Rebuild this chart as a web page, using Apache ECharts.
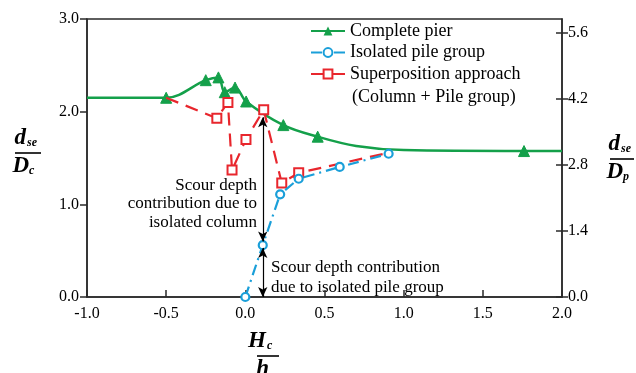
<!DOCTYPE html>
<html><head><meta charset="utf-8">
<script src="https://cdn.jsdelivr.net/npm/echarts@6/dist/echarts.min.js"></script>
<style>html,body{margin:0;padding:0;background:#fff}#c{width:636px;height:373px}</style>
</head><body><div id="c"></div>
<script>
// Complete pier: measured points (drawn with triangles)
const pierX = [-0.5, -0.25, -0.17, -0.13, -0.065, 0.005, 0.24, 0.457, 1.76];
const pierY = [2.15, 2.34, 2.37, 2.21, 2.26, 2.11, 1.855, 1.73, 1.575];
// Complete pier: readings of the fitted curve where no point is marked
const pierCurveX = [-1.0, 0.7, 1.0, 2.0];
const pierCurveY = [2.15, 1.63, 1.585, 1.575];
// Isolated pile group, on the right axis (dse/Dp)
const pileX = [0.0, 0.11, 0.22, 0.337, 0.596, 0.905];
const pileY = [0.0, 1.10, 2.18, 2.51, 2.76, 3.04];
// Superposition approach (column + pile group), on the left axis (dse/Dc)
const superX = [-0.5, -0.18, -0.11, -0.084, 0.004, 0.116, 0.23, 0.337, 0.905];
const superY = [2.15, 1.93, 2.10, 1.37, 1.70, 2.02, 1.23, 1.34, 1.557];
// Arrow positions (Hc/h and dse/Dc)
const arrowX = 0.11;
const arrowColumn = [1.94, 0.60];
const arrowPile = [0.53, 0.0];
// Axis ticks
const xTicks = { min: -1.0, max: 2.0, step: 0.5 };
const leftTicks = { min: 0, max: 3.0, step: 1.0 };
const rightTicks = [0, 1.4, 2.8, 4.2, 5.6];
const rightMax = 5.9;

const SERIF = '"Liberation Serif", "Times New Roman", serif';
const GREEN = '#14a04a', BLUE = '#1a9fd9', RED = '#e8262d', AXIS = '#2a2a2a';

// merge measured and curve readings of the complete pier, sorted by x
const pierData = pierX.map((x, i) => ({ value: [x, pierY[i]] }))
  .concat(pierCurveX.map((x, i) => ({ value: [x, pierCurveY[i]], symbol: 'none' })))
  .sort((a, b) => a.value[0] - b.value[0]);
const pileData = pileX.map((x, i) => [x, pileY[i]]);
const superData = superX.map((x, i) => {
  const item = { value: [x, superY[i]] };
  if (i === 0 || i === superX.length - 1) item.symbol = 'none';
  return item;
});

const chart = echarts.init(document.getElementById('c'), null, { renderer: 'canvas' });

function fraction(cx, yLine, top, topSub, bottom, bottomSub, halfW) {
  const big = 'italic bold 23px ' + SERIF;
  const small = 'italic bold 12px ' + SERIF;
  return [
    { type: 'text', x: cx - 2, y: yLine - 3, style: { text: top, font: big, fill: '#000', align: 'right', verticalAlign: 'bottom' } },
    { type: 'text', x: cx - 1, y: yLine - 4, style: { text: topSub, font: small, fill: '#000', align: 'left', verticalAlign: 'bottom' } },
    { type: 'line', shape: { x1: cx - halfW, y1: yLine, x2: cx + halfW, y2: yLine }, style: { stroke: '#000', lineWidth: 1.6 } },
    { type: 'text', x: cx + 1, y: yLine + 2, style: { text: bottom, font: big, fill: '#000', align: 'right', verticalAlign: 'top' } },
    { type: 'text', x: cx + 1, y: yLine + 12, style: { text: bottomSub, font: small, fill: '#000', align: 'left', verticalAlign: 'top' } }
  ];
}

const fmt1 = v => Number(v).toFixed(1);

chart.setOption({
  animation: false,
  backgroundColor: '#fff',
  grid: { left: 87, right: 74, top: 19, bottom: 76, show: true, borderColor: AXIS, borderWidth: 1.5, backgroundColor: 'transparent' },
  legend: {
    orient: 'vertical', left: 310, top: 22, padding: 0, itemGap: 3.5,
    itemWidth: 34, itemHeight: 11,
    textStyle: { fontFamily: SERIF, fontSize: 18, color: '#000' },
    data: ['Complete pier', 'Isolated pile group', 'Superposition approach']
  },
  xAxis: {
    type: 'value', min: xTicks.min, max: xTicks.max, interval: xTicks.step,
    axisLine: { onZero: false, lineStyle: { color: AXIS, width: 1.5 } },
    axisTick: { inside: true, length: 7, lineStyle: { color: AXIS, width: 1.5 } },
    axisLabel: { formatter: fmt1, fontFamily: SERIF, fontSize: 16, color: '#000', margin: 9 },
    splitLine: { show: false }
  },
  yAxis: [
    {
      type: 'value', min: leftTicks.min, max: leftTicks.max, interval: leftTicks.step, position: 'left',
      axisLine: { show: true, onZero: false, lineStyle: { color: AXIS, width: 1.5 } },
      axisTick: { show: true, length: 7, lineStyle: { color: AXIS, width: 1.5 } },
      axisLabel: { formatter: fmt1, fontFamily: SERIF, fontSize: 16, color: '#000', margin: 8 },
      splitLine: { show: false }
    },
    {
      type: 'value', min: 0, max: rightMax, position: 'right',
      axisLine: { show: true, onZero: false, lineStyle: { color: AXIS, width: 1.5 } },
      axisTick: { show: true, length: 6, customValues: rightTicks, lineStyle: { color: AXIS, width: 1.5 } },
      axisLabel: { customValues: rightTicks, formatter: fmt1, fontFamily: SERIF, fontSize: 16, color: '#000', margin: 6 },
      splitLine: { show: false }
    },
    {
      type: 'value', min: 0, max: rightMax, position: 'right',
      axisLine: { show: false, onZero: false },
      axisTick: { show: true, inside: true, length: 6, customValues: rightTicks, lineStyle: { color: AXIS, width: 1.5 } },
      axisLabel: { show: false },
      splitLine: { show: false }
    }
  ],
  series: [
    {
      name: 'Complete pier', type: 'line', yAxisIndex: 0, z: 2,
      data: pierData, smooth: 0.35,
      symbol: 'triangle', symbolSize: 11,
      lineStyle: { color: GREEN, width: 2.5 },
      itemStyle: { color: GREEN, borderColor: GREEN }
    },
    {
      name: 'Superposition approach', type: 'line', yAxisIndex: 0, z: 3,
      data: superData,
      symbol: 'rect', symbolSize: 9,
      lineStyle: { color: RED, width: 2.2, type: [13, 8] },
      itemStyle: { color: '#fff', borderColor: RED, borderWidth: 2 },
      markLine: {
        silent: true, symbol: ['arrow', 'arrow'], symbolSize: [7, 10],
        label: { show: false },
        lineStyle: { color: '#000', width: 1.2, type: 'solid' },
        emphasis: { disabled: true },
        data: [
          [{ coord: [arrowX, arrowColumn[0]] }, { coord: [arrowX, arrowColumn[1]] }],
          [{ coord: [arrowX, arrowPile[0]] }, { coord: [arrowX, arrowPile[1]] }]
        ]
      }
    },
    {
      name: 'Isolated pile group', type: 'line', yAxisIndex: 1, z: 4,
      data: pileData,
      symbol: 'circle', symbolSize: 8,
      lineStyle: { color: BLUE, width: 2.2, type: [11, 5, 2, 5] },
      itemStyle: { color: '#fff', borderColor: BLUE, borderWidth: 2.2 }
    }
  ],
  graphic: [
    { type: 'text', x: 352, y: 97, style: { text: '(Column + Pile group)', font: '18px ' + SERIF, fill: '#000', align: 'left', verticalAlign: 'middle' } },
    { type: 'text', x: 257, y: 176, style: { text: 'Scour depth\ncontribution due to\nisolated column', font: '17px ' + SERIF, fill: '#000', align: 'right', verticalAlign: 'top', lineHeight: 18.5 } },
    { type: 'text', x: 271, y: 258, style: { text: 'Scour depth contribution\ndue to isolated pile group', font: '17px ' + SERIF, fill: '#000', align: 'left', verticalAlign: 'top', lineHeight: 19.5 } }
  ]
    .concat(fraction(28, 153, 'd', 'se', 'D', 'c', 13))
    .concat(fraction(622, 159, 'd', 'se', 'D', 'p', 12))
    .concat(fraction(268, 356, 'H', 'c', 'h', '', 11))
});
</script>
</body></html>
